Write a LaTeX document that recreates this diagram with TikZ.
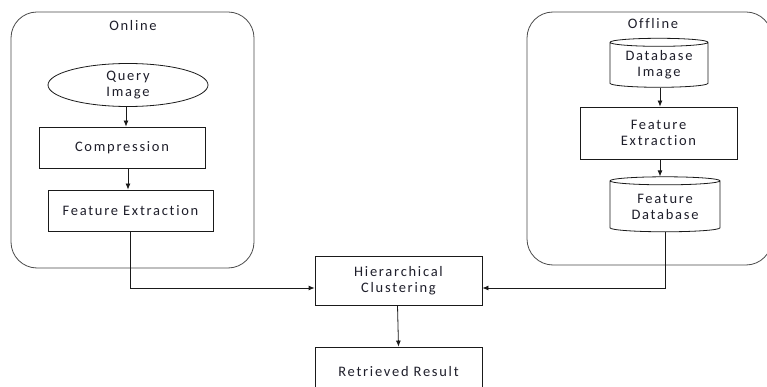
\documentclass[tikz,border=0pt]{standalone}
\usepackage{fontspec}
\usepackage{tikz}
\usetikzlibrary{arrows.meta,calc,positioning,shapes.geometric}
\newfontfamily\diagfont[LetterSpace=12,Ligatures=NoCommon]{Carlito}
\definecolor{BoxLine}{HTML}{1A1A1A}
\definecolor{GroupLine}{HTML}{4A4A4A}
\definecolor{LabelInk}{HTML}{1E1E2A}

\begin{document}
\begin{tikzpicture}[x=1pt, y=-1pt, >={Latex[length=6pt,width=5pt]},
    every node/.style={font=\diagfont\fontsize{14.5}{16}\selectfont, text=LabelInk, align=center, inner sep=0pt},
    groupbox/.style={draw=GroupLine, line width=0.8pt, rounded corners=26pt},
    procbox/.style={draw=BoxLine, line width=0.8pt, rectangle},
    store/.style={draw=BoxLine, line width=0.8pt, cylinder, shape border rotate=90, aspect=0.12},
    flow/.style={->, line width=0.8pt, draw=BoxLine}]
    \useasboundingbox (0,0) rectangle (767,387);

    % Online and offline groups
    \node[groupbox, minimum width=243pt, minimum height=256pt] (online) at (132.5,140) {};
    \node (onlinelbl) at (133,26) {Online};
    \node[groupbox, minimum width=245pt, minimum height=253pt] (offline) at (649.5,138.5) {};
    \node (offlinelbl) at (653,24) {Offline};

    % Online pipeline
    \node[ellipse, draw=BoxLine, line width=0.8pt, minimum width=160pt, minimum height=43pt] (query) at (128,85) {Query\\Image};
    \node[procbox, minimum width=166pt, minimum height=41pt] (compress) at (122,147.5) {Compression};
    \node[procbox, minimum width=165pt, minimum height=41pt] (featon) at (130.5,210.5) {Feature Extraction};

    % Offline pipeline
    \node[store, minimum width=98pt, minimum height=49pt] (dbimg) at (659,65) {Database\\Image};
    \node[procbox, minimum width=157pt, minimum height=52pt] (featoff) at (658.5,133) {Feature\\Extraction};
    \node[store, minimum width=110pt, minimum height=55pt] (featdb) at (665,206.5) {Feature\\Database};

    % Shared stages
    \node[procbox, minimum width=167pt, minimum height=49pt] (cluster) at (398.5,280.5) {Hierarchical\\Clustering};
    \node[procbox, minimum width=167pt, minimum height=49pt] (result) at (398.5,371.5) {Retrieved Result};

    % Arrows
    \draw[flow] ([xshift=-2pt]query.south) -- ([xshift=-2pt]query.south |- compress.north);
    \draw[flow] ([xshift=-2.5pt]featon.north |- compress.south) -- ([xshift=-2.5pt]featon.north);
    \draw[flow] ([xshift=1pt]dbimg.bottom) -- ([xshift=1pt]dbimg.bottom |- featoff.north);
    \draw[flow] ([xshift=1.5pt]featoff.south) -- ([xshift=1.5pt]featoff.south |- featdb.top);
    \draw[flow] (featon.south) |- ([yshift=-7.5pt]cluster.west);
    \draw[flow] (featdb.bottom) |- ([yshift=-7.5pt]cluster.east);
    \draw[flow] ([xshift=-1pt]cluster.south) -- (result.north);
\end{tikzpicture}
\end{document}
